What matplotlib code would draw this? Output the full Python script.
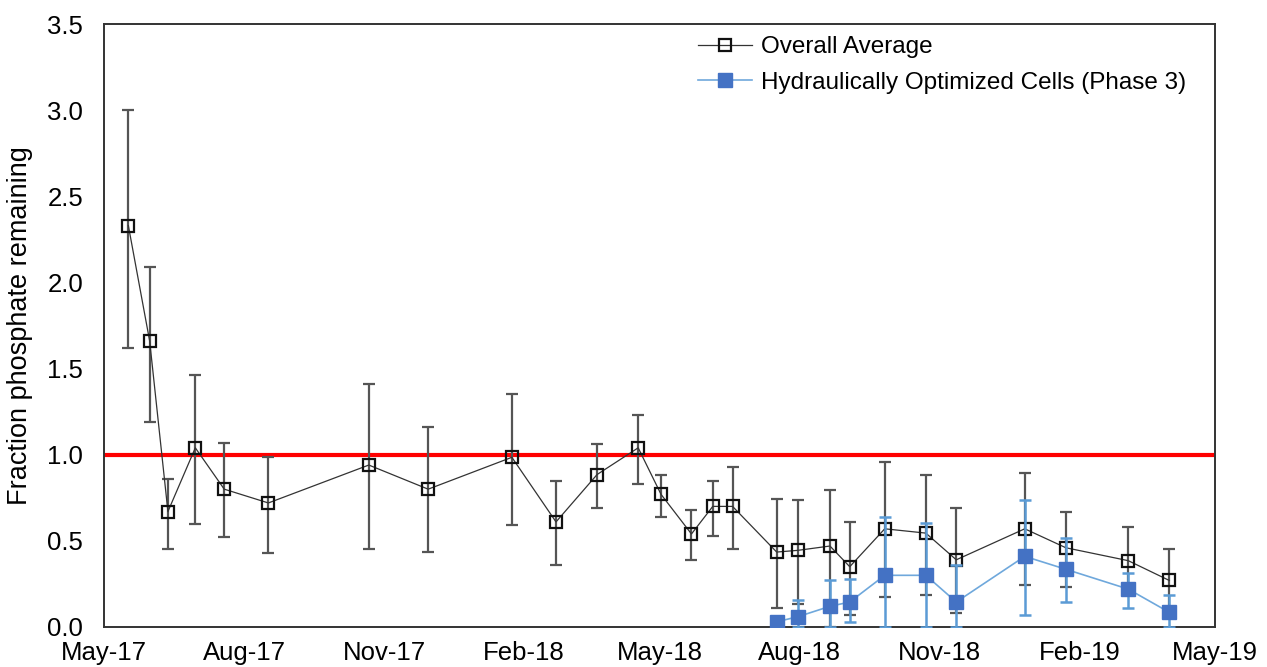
import matplotlib
matplotlib.use("Agg")
import matplotlib.pyplot as plt
import matplotlib.dates as mdates
import numpy as np
import pandas as pd

plt.rcParams['font.family'] = ['Liberation Sans', 'DejaVu Sans']

# overall average of all cells
avg_dates = ['2017-05-17', '2017-05-31', '2017-06-12', '2017-06-30', '2017-07-19',
             '2017-08-17', '2017-10-22', '2017-11-30', '2018-01-24', '2018-02-22',
             '2018-03-21', '2018-04-17', '2018-05-02', '2018-05-22', '2018-06-05',
             '2018-06-18', '2018-07-17', '2018-07-31', '2018-08-21', '2018-09-03',
             '2018-09-26', '2018-10-23', '2018-11-12', '2018-12-27', '2019-01-23',
             '2019-03-05', '2019-04-01']
avg_vals = [2.33, 1.66, 0.67, 1.04, 0.80, 0.72, 0.94, 0.80, 0.985, 0.61,
            0.885, 1.04, 0.77, 0.54, 0.70, 0.70, 0.435, 0.445, 0.47, 0.35,
            0.57, 0.545, 0.39, 0.57, 0.46, 0.385, 0.27]
avg_hi = [3.00, 2.09, 0.86, 1.46, 1.07, 0.985, 1.41, 1.16, 1.355, 0.85,
          1.065, 1.23, 0.88, 0.68, 0.85, 0.93, 0.745, 0.74, 0.795, 0.61,
          0.955, 0.88, 0.69, 0.895, 0.665, 0.58, 0.455]
avg_lo = [1.62, 1.19, 0.455, 0.60, 0.52, 0.43, 0.455, 0.435, 0.59, 0.36,
          0.69, 0.83, 0.64, 0.39, 0.53, 0.455, 0.11, 0.135, 0.0, 0.07,
          0.175, 0.185, 0.08, 0.245, 0.235, 0.19, 0.10]

# hydraulically optimized cells (phase 3)
opt_dates = ['2018-07-17', '2018-07-31', '2018-08-21', '2018-09-03', '2018-09-26',
             '2018-10-23', '2018-11-12', '2018-12-27', '2019-01-23', '2019-03-05',
             '2019-04-01']
opt_vals = [0.03, 0.06, 0.12, 0.145, 0.30, 0.30, 0.145, 0.41, 0.335, 0.22, 0.085]
opt_hi = [0.03, 0.155, 0.27, 0.28, 0.64, 0.605, 0.36, 0.735, 0.515, 0.315, 0.185]
opt_lo = [0.0, 0.0, 0.0, 0.03, 0.0, 0.0, 0.0, 0.07, 0.145, 0.11, 0.0]

avg_x = pd.to_datetime(avg_dates)
opt_x = pd.to_datetime(opt_dates)
avg_vals = np.array(avg_vals)
opt_vals = np.array(opt_vals)
avg_err = [avg_vals - np.array(avg_lo), np.array(avg_hi) - avg_vals]
opt_err = [opt_vals - np.array(opt_lo), np.array(opt_hi) - opt_vals]

fig = plt.figure(figsize=(12.67, 6.67), dpi=100)
ax = fig.add_axes([104 / 1267, 40 / 667, 1111 / 1267, 603 / 667])

ax.axhline(1.0, color='#ff0000', lw=3, zorder=1)

ax.errorbar(avg_x, avg_vals, yerr=avg_err, fmt='none', ecolor='#555555',
            elinewidth=1.6, capsize=4.5, capthick=1.6, zorder=2)
ax.plot(avg_x, avg_vals, color='#333333', lw=0.9, marker='s', ms=9,
        mfc='none', mec='#111111', mew=1.6, label='Overall Average', zorder=3)

ax.errorbar(opt_x, opt_vals, yerr=opt_err, fmt='none', ecolor='#5b9bd5',
            elinewidth=1.8, capsize=4.5, capthick=1.8, zorder=4)
ax.plot(opt_x, opt_vals, color='#6fa8dc', lw=1.2, marker='s', ms=10.5,
        mfc='#4472c4', mec='#4472c4', label='Hydraulically Optimized Cells (Phase 3)',
        zorder=5)

ax.set_xlim(pd.Timestamp('2017-05-01'), pd.Timestamp('2019-05-01'))
ax.set_ylim(0, 3.5)
ax.set_yticks(np.arange(0, 3.51, 0.5))
ax.yaxis.set_major_formatter(matplotlib.ticker.FormatStrFormatter('%.1f'))
ax.xaxis.set_major_locator(mdates.MonthLocator(bymonth=[2, 5, 8, 11]))
ax.xaxis.set_major_formatter(mdates.DateFormatter('%b-%y'))

ax.tick_params(axis='both', length=0, labelsize=18.5, colors='black')
ax.tick_params(axis='y', pad=15)
ax.tick_params(axis='x', pad=10)
for s in ax.spines.values():
    s.set_color('#333333')
    s.set_linewidth(1.4)

ax.set_ylabel('Fraction phosphate remaining', fontsize=19.5, labelpad=10)

ax.legend(loc='upper left', bbox_to_anchor=(686 / 1267, 1 - 24 / 667),
          bbox_transform=fig.transFigure, frameon=False, fontsize=17.5,
          borderpad=0, handlelength=2.2, handletextpad=0.4, labelspacing=0.55)

fig.savefig('out.png', dpi=100)
